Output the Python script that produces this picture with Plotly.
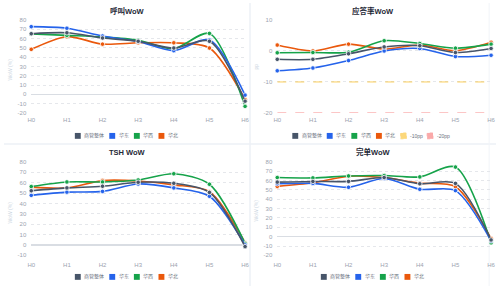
import plotly.graph_objects as go

W, H = 500, 289

categories = ["H0", "H1", "H2", "H3", "H4", "H5", "H6"]
series_names = ["商管整体", "华东", "华西", "华北"]
series_colors = ["#475569", "#2563eb", "#16a34a", "#ea580c"]

call_overall = [65.2, 66.2, 60.6, 57.1, 49.8, 57.1, -7.3]
call_east = [72.8, 71.1, 62.7, 56.8, 47.0, 58.5, -0.8]
call_west = [65.0, 63.4, 61.7, 58.2, 49.1, 65.5, -12.9]
call_north = [48.4, 62.0, 54.0, 55.4, 55.4, 49.8, -5.5]

answer_overall = [-2.7, -2.7, -0.9, 1.3, 1.7, -0.5, 0.8]
answer_east = [-6.4, -5.5, -3.1, 0.0, 0.8, -1.8, -1.4]
answer_west = [-0.6, -0.5, -0.4, 3.3, 2.4, 0.9, 2.2]
answer_north = [1.9, 0.0, 2.2, 0.6, 1.9, 0.1, 2.8]

ref_names = ["-10pp", "-20pp"]
ref_values = [-10, -20]
ref_colors = ["#fbbf24", "#f87171"]

tsh_overall = [52.2, 55.0, 56.6, 60.4, 59.4, 50.6, -1.6]
tsh_east = [47.8, 50.9, 51.6, 58.8, 55.0, 46.9, 0.0]
tsh_west = [56.3, 60.7, 60.7, 62.6, 68.6, 58.5, 1.5]
tsh_north = [55.7, 55.0, 62.0, 61.6, 57.9, 51.3, 2.2]

done_overall = [58.4, 59.1, 59.1, 63.3, 56.6, 57.0, -3.5]
done_east = [56.6, 57.0, 52.8, 62.2, 50.7, 49.3, -4.5]
done_west = [63.3, 62.9, 65.0, 65.4, 64.0, 74.5, -6.6]
done_north = [53.8, 57.7, 64.7, 63.3, 57.3, 53.5, -2.0]

titles = ["呼叫WoW", "应答率WoW", "TSH WoW", "完单WoW"]
y_titles = ["WoW (%)", "pp", "WoW (%)", "WoW (%)"]
y_ticks_call = [-20, -10, 0, 10, 20, 30, 40, 50, 60, 70, 80]
y_ticks_answer = [-20, -10, 0, 10]
y_ticks_tsh = [-10, 0, 10, 20, 30, 40, 50, 60, 70, 80]
y_ticks_done = [-20, -10, 0, 10, 20, 30, 40, 50, 60, 70, 80]

panels = [
    dict(series=[call_overall, call_east, call_west, call_north], ticks=y_ticks_call, refs=False),
    dict(series=[answer_overall, answer_east, answer_west, answer_north], ticks=y_ticks_answer, refs=True),
    dict(series=[tsh_overall, tsh_east, tsh_west, tsh_north], ticks=y_ticks_tsh, refs=False),
    dict(series=[done_overall, done_east, done_west, done_north], ticks=y_ticks_done, refs=False),
]

# cell geometry (pixels)
cells = [(0, 0), (250, 0), (0, 144), (250, 144)]
plot_l, plot_r = 27.7, 245.0
plot_tb = [(17.3, 112.3), (17.3, 112.3), (18.3, 113.7), (18.3, 113.7)]
zero_w = [1, 0, 2.2, 1]
xlab_standoff = [2, 2, 5, 5]
legend_start = [72, 293, 72, 322]
legend_y = [135.7, 135.7, 136.7, 136.7]
ytitle_pos = [(6, 68), (6, 65), (6, 70), (6, 68)]

FONT = "Liberation Sans, Arial, Noto Sans CJK SC, sans-serif"
TICK_COLOR = "#9ca3af"


def px(x):
    return x / W


def py(y):
    return 1 - y / H


fig = go.Figure()
layout = dict(
    width=W, height=H, margin=dict(l=0, r=0, t=0, b=0),
    paper_bgcolor="white", plot_bgcolor="white", showlegend=False,
    font=dict(family=FONT, size=6, color=TICK_COLOR),
)
shapes = []
annotations = []


def text_w(s, fs):
    w = 0
    for ch in s:
        w += fs if ord(ch) > 0x2E80 else fs * 0.56
    return w


for i, p in enumerate(panels):
    cx, cy = cells[i]
    top, bot = plot_tb[i]
    sfx = "" if i == 0 else str(i + 1)
    xa, ya = "x" + sfx, "y" + sfx
    ticks = p["ticks"]
    layout["xaxis" + sfx] = dict(
        domain=[px(cx + plot_l), px(cx + plot_r)], anchor=ya,
        type="category", categoryarray=categories, range=[0, 6],
        showgrid=False, zeroline=False, showline=False, ticks="",
        tickfont=dict(size=6, color=TICK_COLOR), ticklabelstandoff=xlab_standoff[i],
        fixedrange=True,
    )
    layout["yaxis" + sfx] = dict(
        domain=[py(cy + bot), py(cy + top)], anchor=xa,
        range=[ticks[0], ticks[-1]], tickvals=ticks, ticktext=[str(t) for t in ticks],
        showgrid=True, gridcolor="#e5e7eb", griddash="dot", gridwidth=1,
        zeroline=zero_w[i] > 0, zerolinecolor="#d9dde3", zerolinewidth=max(zero_w[i], 1),
        showline=False, ticks="", tickfont=dict(size=6, color=TICK_COLOR),
        ticklabelstandoff=4, fixedrange=True,
    )
    if p["refs"]:
        for name, val, col in zip(ref_names, ref_values, ref_colors):
            fig.add_trace(go.Scatter(
                x=categories, y=[val] * len(categories), mode="lines", name=name,
                line=dict(color=col, width=1, dash="dash"), opacity=0.75,
                xaxis=xa, yaxis=ya, cliponaxis=False,
            ))
    for k in reversed(range(len(series_names))):
        fig.add_trace(go.Scatter(
            x=categories, y=p["series"][k], mode="lines+markers", name=series_names[k],
            line=dict(color=series_colors[k], width=1.6, shape="spline", smoothing=0.8),
            marker=dict(size=4.5, color=series_colors[k], line=dict(color="white", width=0.8)),
            xaxis=xa, yaxis=ya, cliponaxis=False,
        ))
    # title
    annotations.append(dict(
        text="<b>" + titles[i] + "</b>", x=px(cx + 125), y=py(cy + 8.5),
        xref="paper", yref="paper", xanchor="center", yanchor="middle", showarrow=False,
        font=dict(size=7.5, color="#1f2937", family=FONT),
    ))
    # y-axis title
    tx, ty = ytitle_pos[i]
    annotations.append(dict(
        text=y_titles[i], x=px(cx + tx), y=py(cy + ty), xref="paper", yref="paper",
        xanchor="center", yanchor="middle", textangle=-90, showarrow=False,
        font=dict(size=5, color="#cbd5e1", family=FONT),
    ))
    # legend (manual, chart.js style boxes)
    items = list(zip(series_names, series_colors, [False] * 4))
    if p["refs"]:
        items += list(zip(ref_names, ref_colors, [True] * 2))
    lx = legend_start[i]
    ly = legend_y[i] + (143 if cy else 0)
    fs = 5
    for name, col, dashed in items:
        shapes.append(dict(
            type="rect", xref="paper", yref="paper",
            x0=px(lx), x1=px(lx + 6), y0=py(ly + 3), y1=py(ly - 3),
            fillcolor=col, opacity=1 if not dashed else 0.6,
            line=dict(color=col, width=0.8 if dashed else 0, dash="dot" if dashed else "solid"),
        ))
        annotations.append(dict(
            text=name, x=px(lx + 7.5), y=py(ly), xref="paper", yref="paper",
            xanchor="left", yanchor="middle", showarrow=False,
            font=dict(size=fs, color="#6b7280", family=FONT),
        ))
        lx += 6 + 3 + text_w(name, fs) + (6 if not dashed else 4)

# separators between cards
sep = "#edf1f6"
shapes.append(dict(type="line", xref="paper", yref="paper", x0=px(250), x1=px(250), y0=0, y1=1,
                   line=dict(color=sep, width=1.5), layer="below"))
shapes.append(dict(type="line", xref="paper", yref="paper", x0=0, x1=1, y0=py(144), y1=py(144),
                   line=dict(color=sep, width=1.5), layer="below"))
shapes.append(dict(type="line", xref="paper", yref="paper", x0=px(493), x1=px(493), y0=0, y1=1,
                   line=dict(color="#f1f4f8", width=1), layer="below"))

layout["shapes"] = shapes
layout["annotations"] = annotations
fig.update_layout(**layout)
fig.write_html("out.html", config=dict(displayModeBar=False))
